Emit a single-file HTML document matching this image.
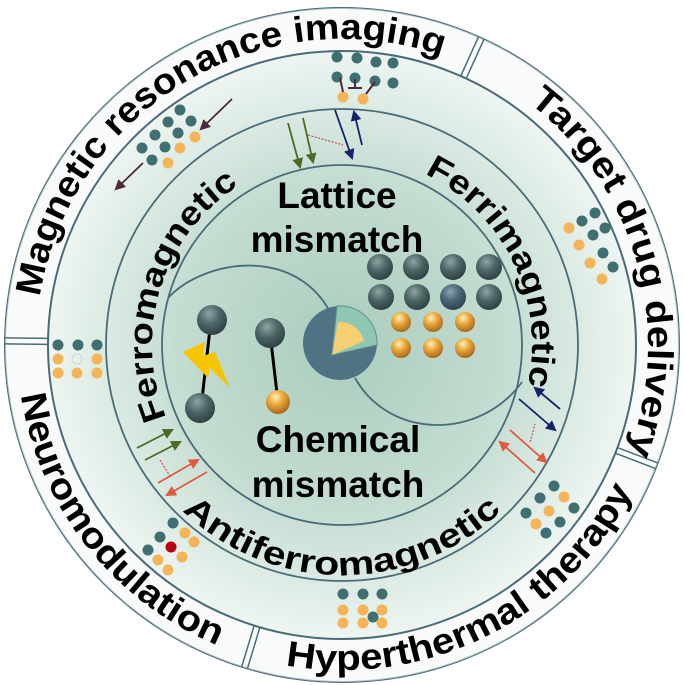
<!DOCTYPE html>
<html><head><meta charset="utf-8">
<style>
html,body{margin:0;padding:0;background:#fff;}
svg{display:block;}
text{font-family:"Liberation Sans",Arial,sans-serif;font-weight:bold;fill:#000;}
</style></head><body>
<svg width="685" height="685" viewBox="0 0 685 685" xmlns="http://www.w3.org/2000/svg">
<defs>
<radialGradient id="bg" cx="342" cy="345" r="300" gradientUnits="userSpaceOnUse">
<stop offset="0" stop-color="#a9cdbd"/>
<stop offset="0.55" stop-color="#c4dcd1"/>
<stop offset="0.8" stop-color="#dcebe4"/>
<stop offset="1" stop-color="#f0f6f3"/>
</radialGradient>
<radialGradient id="dk" cx="0.4" cy="0.3" r="0.7">
<stop offset="0" stop-color="#8fa3a3"/><stop offset="0.5" stop-color="#4e6566"/><stop offset="1" stop-color="#2f4244"/>
</radialGradient>
<radialGradient id="dk2" cx="0.4" cy="0.3" r="0.7">
<stop offset="0" stop-color="#8fa3b3"/><stop offset="0.5" stop-color="#4a6778"/><stop offset="1" stop-color="#2f4254"/>
</radialGradient>
<radialGradient id="gd" cx="0.4" cy="0.3" r="0.7">
<stop offset="0" stop-color="#fff0b0"/><stop offset="0.45" stop-color="#e9a83e"/><stop offset="1" stop-color="#a86a1a"/>
</radialGradient>
<marker id="ag" viewBox="0 0 10 10" refX="8" refY="5" markerWidth="6" markerHeight="6" orient="auto"><path d="M0,0L10,5L0,10z" fill="#4a6a25"/></marker>
<marker id="ab" viewBox="0 0 10 10" refX="8" refY="5" markerWidth="6" markerHeight="6" orient="auto"><path d="M0,0L10,5L0,10z" fill="#15246a"/></marker>
<marker id="ar" viewBox="0 0 10 10" refX="8" refY="5" markerWidth="6" markerHeight="6" orient="auto"><path d="M0,0L10,5L0,10z" fill="#e05a40"/></marker>
<marker id="ap" viewBox="0 0 10 10" refX="8" refY="5" markerWidth="6" markerHeight="6" orient="auto"><path d="M0,0L10,5L0,10z" fill="#4a2a3c"/></marker>
<path id="cw306" d="M36,345 a306,306 0 1 1 612,0 a306,306 0 1 1 -612,0"/>
<path id="cw190" d="M342,535 a190,190 0 1 1 0,-380 a190,190 0 1 1 0,380"/>
<path id="ccw325" d="M17,345 a325,325 0 1 0 650,0 a325,325 0 1 0 -650,0"/>
<path id="ccw230" d="M112,345 a230,230 0 1 0 460,0 a230,230 0 1 0 -460,0"/>
</defs>
<rect width="685" height="685" fill="#fff"/>
<circle cx="342" cy="345" r="337" fill="url(#bg)" stroke="#4a6c78" stroke-width="2"/>
<circle cx="342" cy="345" r="337" fill="#ffffff" opacity="0.6"/>
<circle cx="342" cy="345" r="294" fill="url(#bg)" stroke="#4a6c78" stroke-width="2"/>
<circle cx="342" cy="345" r="236" fill="none" stroke="#4a6c78" stroke-width="1.8"/>
<circle cx="342" cy="345" r="180" fill="none" stroke="#4a6c78" stroke-width="1.8"/>
<g stroke="#4a6c78" stroke-width="1.5">
<g transform="rotate(-65.6 342 345)"><line x1="636" y1="342" x2="679" y2="342"/><line x1="636" y1="348" x2="679" y2="348"/></g>
<g transform="rotate(180.7 342 345)"><line x1="636" y1="342" x2="679" y2="342"/><line x1="636" y1="348" x2="679" y2="348"/></g>
<g transform="rotate(106.8 342 345)"><line x1="636" y1="342" x2="679" y2="342"/><line x1="636" y1="348" x2="679" y2="348"/></g>
<g transform="rotate(21 342 345)"><line x1="636" y1="342" x2="679" y2="342"/><line x1="636" y1="348" x2="679" y2="348"/></g>
</g>
<path d="M168,298 C205,258 300,245 333,318" fill="none" stroke="#4a6c78" stroke-width="1.8"/>
<path d="M355,378 C390,440 480,440 522,382" fill="none" stroke="#4a6c78" stroke-width="1.8"/>

<text font-size="36"><textPath href="#cw306" startOffset="16.4%" text-anchor="middle" textLength="534" lengthAdjust="spacingAndGlyphs">Magnetic resonance imaging</textPath></text>
<text font-size="36"><textPath href="#cw306" startOffset="45.6%" text-anchor="middle" textLength="390" lengthAdjust="spacingAndGlyphs">Target drug delivery</textPath></text>
<text font-size="36"><textPath href="#ccw325" startOffset="10.6%" text-anchor="middle" textLength="332" lengthAdjust="spacingAndGlyphs">Neuromodulation</textPath></text>
<text font-size="36"><textPath href="#ccw325" startOffset="32.4%" text-anchor="middle" textLength="416" lengthAdjust="spacingAndGlyphs">Hyperthermal therapy</textPath></text>
<text font-size="33"><textPath href="#cw190" startOffset="29.8%" text-anchor="middle" textLength="264" lengthAdjust="spacingAndGlyphs">Ferromagnetic</textPath></text>
<text font-size="33"><textPath href="#cw190" startOffset="67.8%" text-anchor="middle" textLength="254" lengthAdjust="spacingAndGlyphs">Ferrimagnetic</textPath></text>
<text font-size="33"><textPath href="#ccw230" startOffset="25%" text-anchor="middle" textLength="353" lengthAdjust="spacingAndGlyphs">Antiferromagnetic</textPath></text>

<text x="337" y="208" font-size="37" text-anchor="middle">Lattice</text>
<text x="337" y="252" font-size="37" text-anchor="middle">mismatch</text>
<text x="338" y="452" font-size="37" text-anchor="middle">Chemical</text>
<text x="338" y="497" font-size="37" text-anchor="middle">mismatch</text>

<circle cx="340" cy="343" r="37" fill="#4f7284"/>
<path d="M332,355 L337,306 A37,37 0 0 1 377,345 Z" fill="#8fc7b3" stroke="#5f8f90" stroke-width="1"/>
<path d="M332,355 L338,322 A25,25 0 0 1 364,341 Z" fill="#f6cf72"/>
<g fill="url(#dk)">
<circle cx="380" cy="267" r="13"/><circle cx="416" cy="267" r="13"/><circle cx="453" cy="267" r="13"/><circle cx="489" cy="267" r="13"/>
<circle cx="381" cy="297" r="13"/><circle cx="417" cy="297" r="13"/><circle cx="453" cy="297" r="13" fill="url(#dk2)"/><circle cx="489" cy="297" r="13"/>
</g>
<g fill="url(#gd)">
<circle cx="401" cy="322" r="10"/><circle cx="433" cy="322" r="10"/><circle cx="465" cy="322" r="10"/>
<circle cx="401" cy="348" r="10"/><circle cx="433" cy="348" r="10"/><circle cx="465" cy="348" r="10"/>
</g>
<line x1="211" y1="320" x2="201" y2="408" stroke="#000" stroke-width="3"/>
<path d="M183,352 L205,342 L203,356 L215,352 L230,388 L210,368 L208,378 Z" fill="#f7c400"/>
<circle cx="212" cy="320" r="15" fill="url(#dk)"/>
<circle cx="200" cy="408" r="15" fill="url(#dk)"/>
<line x1="270" y1="333" x2="278" y2="402" stroke="#000" stroke-width="3"/>
<circle cx="270" cy="333" r="15" fill="url(#dk)"/>
<circle cx="278" cy="402" r="12" fill="url(#gd)"/>

<g fill="#3f6f70">
<circle cx="337" cy="57" r="5.5"/><circle cx="357" cy="58" r="5.5"/><circle cx="376" cy="62" r="5.5"/><circle cx="393" cy="63" r="5.5"/>
<circle cx="337" cy="77" r="5.5"/><circle cx="355" cy="78" r="5.5"/><circle cx="375" cy="81" r="5.5"/><circle cx="393" cy="83" r="5.5"/>
<circle cx="180" cy="110" r="5.5"/><circle cx="168" cy="122" r="5.5"/><circle cx="191" cy="121" r="5.5"/><circle cx="155" cy="135" r="5.5"/><circle cx="178" cy="133" r="5.5"/><circle cx="142" cy="148" r="5.5"/><circle cx="165" cy="147" r="5.5"/><circle cx="152" cy="160" r="5.5"/>
<circle cx="595" cy="213" r="5.5"/><circle cx="582" cy="221" r="5.5"/><circle cx="605" cy="228" r="5.5"/><circle cx="593" cy="235" r="5.5"/><circle cx="603" cy="253" r="5.5"/><circle cx="613" cy="267" r="5.5"/>
<circle cx="58" cy="345" r="5.5"/><circle cx="78" cy="345" r="5.5"/><circle cx="97" cy="345" r="5.5"/>
<circle cx="173" cy="523" r="5.5"/><circle cx="160" cy="537" r="5.5"/><circle cx="148" cy="550" r="5.5"/>
<circle cx="554" cy="486" r="5.5"/><circle cx="540" cy="498" r="5.5"/><circle cx="526" cy="513" r="5.5"/><circle cx="574" cy="508" r="5.5"/><circle cx="560" cy="522" r="5.5"/><circle cx="546" cy="533" r="5.5"/>
<circle cx="343" cy="594" r="5.5"/><circle cx="363" cy="594" r="5.5"/><circle cx="382" cy="594" r="5.5"/>
</g>
<g fill="#f5b458">
<circle cx="343" cy="97" r="5.5"/><circle cx="363" cy="99" r="5.5"/>
<circle cx="195" cy="137" r="5.5"/><circle cx="180" cy="148" r="5.5"/><circle cx="168" cy="163" r="5.5"/>
<circle cx="569" cy="228" r="5.5"/><circle cx="579" cy="245" r="5.5"/><circle cx="590" cy="263" r="5.5"/><circle cx="602" cy="279" r="5.5"/>
<circle cx="58" cy="359" r="5.5"/><circle cx="97" cy="359" r="5.5"/><circle cx="58" cy="373" r="5.5"/><circle cx="77" cy="373" r="5.5"/><circle cx="97" cy="373" r="5.5"/>
<circle cx="185" cy="533" r="5.5"/><circle cx="194" cy="542" r="5.5"/><circle cx="182" cy="557" r="5.5"/><circle cx="158" cy="560" r="5.5"/><circle cx="168" cy="570" r="5.5"/>
<circle cx="564" cy="497" r="5.5"/><circle cx="549" cy="511" r="5.5"/><circle cx="536" cy="524" r="5.5"/>
<circle cx="343" cy="610" r="5.5"/><circle cx="363" cy="610" r="5.5"/><circle cx="382" cy="610" r="5.5"/>
<circle cx="343" cy="623" r="5.5"/><circle cx="363" cy="623" r="5.5"/><circle cx="382" cy="623" r="5.5"/>
</g>
<circle cx="373" cy="617" r="5.5" fill="#3f6f70"/>
<circle cx="77" cy="359" r="5" fill="none" stroke="#ccc" stroke-width="0.8"/>
<circle cx="171" cy="547" r="5.5" fill="#c00010"/>
<g stroke="#4a2a3c" stroke-width="2" fill="none">
<path d="M340,78 L343,92"/><path d="M355,79 L355,88 M348,88 L362,88"/><path d="M375,82 L366,94"/>
</g>

<g stroke-width="1.8" fill="none">
<line x1="232" y1="99" x2="201" y2="129" stroke="#4a2a3c" marker-end="url(#ap)"/>
<line x1="143" y1="163" x2="116" y2="189" stroke="#4a2a3c" marker-end="url(#ap)"/>
<line x1="288" y1="123" x2="300" y2="167" stroke="#4a6a25" marker-end="url(#ag)"/>
<line x1="303" y1="118" x2="313" y2="162" stroke="#4a6a25" marker-end="url(#ag)"/>
<line x1="335" y1="110" x2="352" y2="158" stroke="#15246a" marker-end="url(#ab)"/>
<line x1="362" y1="145" x2="354" y2="112" stroke="#15246a" marker-end="url(#ab)"/>
<line x1="308" y1="135" x2="343" y2="145" stroke="#c0303a" stroke-width="1" stroke-dasharray="2,1.5"/>
<line x1="519" y1="399" x2="555" y2="430" stroke="#15246a" marker-end="url(#ab)"/>
<line x1="560" y1="409" x2="535" y2="388" stroke="#15246a" marker-end="url(#ab)"/>
<line x1="510" y1="430" x2="546" y2="462" stroke="#e05a40" marker-end="url(#ar)"/>
<line x1="535" y1="473" x2="500" y2="442" stroke="#e05a40" marker-end="url(#ar)"/>
<line x1="530" y1="442" x2="535" y2="424" stroke="#c0303a" stroke-width="1" stroke-dasharray="2,1.5"/>
<line x1="137" y1="448" x2="172" y2="430" stroke="#4a6a25" marker-end="url(#ag)"/>
<line x1="145" y1="460" x2="180" y2="442" stroke="#4a6a25" marker-end="url(#ag)"/>
<line x1="158" y1="483" x2="198" y2="460" stroke="#e05a40" marker-end="url(#ar)"/>
<line x1="207" y1="472" x2="167" y2="495" stroke="#e05a40" marker-end="url(#ar)"/>
<line x1="160" y1="460" x2="170" y2="476" stroke="#c0303a" stroke-width="1" stroke-dasharray="2,1.5"/>
</g>
</svg>
</body></html>
